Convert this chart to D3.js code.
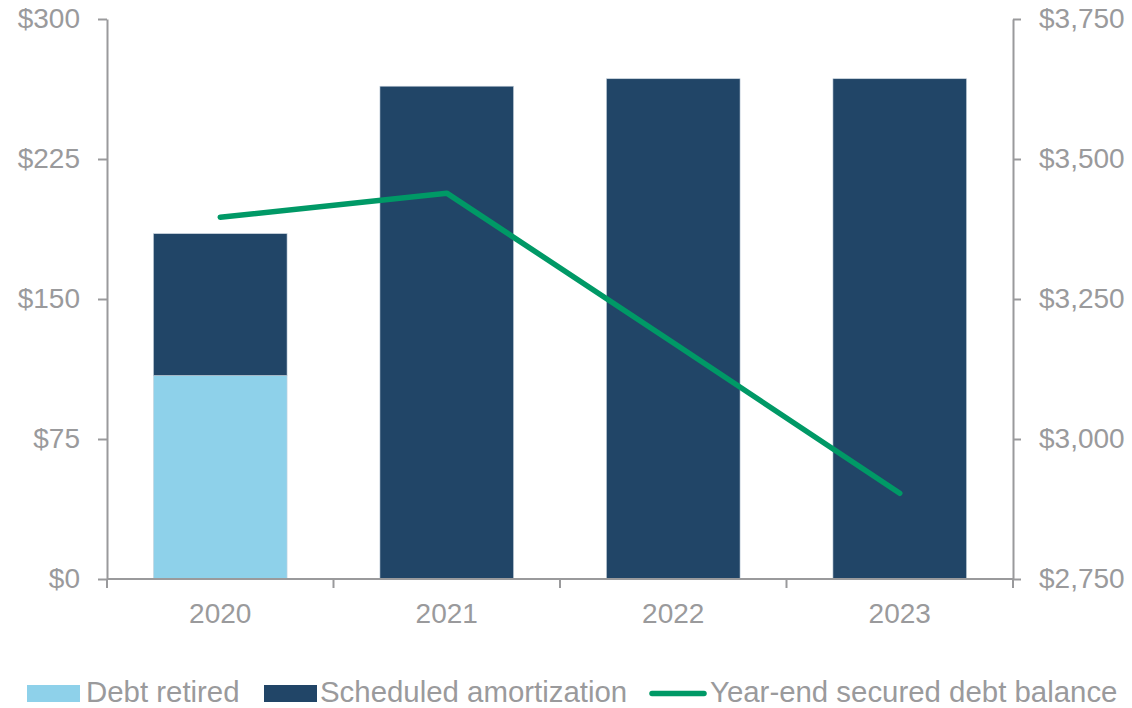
<!DOCTYPE html>
<html>
<head>
<meta charset="utf-8">
<script src="https://cdn.jsdelivr.net/npm/d3@7/dist/d3.min.js"></script>
<style>
  html, body { margin: 0; padding: 0; background: #fff; }
  svg { display: block; font-family: "Liberation Sans", Arial, sans-serif; }
</style>
</head>
<body>
<svg id="chart" width="1132" height="708"></svg>
<script>
// Data ($ millions)
const years = ["2020", "2021", "2022", "2023"];
const debtRetired = [109, 0, 0, 0];
const scheduledAmortization = [76, 264, 268, 268];
const securedDebtBalance = [3396, 3439, 3172, 2903];
const leftTicks = [0, 75, 150, 225, 300];
const rightTicks = [2750, 3000, 3250, 3500, 3750];
const seriesNames = ["Debt retired", "Scheduled amortization", "Year-end secured debt balance"];

const colors = { retired: "#8ed1ea", scheduled: "#214567", line: "#009966", axis: "#9a9a9c", text: "#9a9a9c" };

const svg = d3.select("#chart");
const plot = { left: 107, right: 1013, top: 19, bottom: 579 };

const x = d3.scaleBand().domain(years).range([plot.left, plot.right]).paddingInner(0.41).paddingOuter(0.205);
const xBand = d3.scaleBand().domain(years).range([plot.left, plot.right]);
const yL = d3.scaleLinear().domain([0, 300]).range([plot.bottom, plot.top]);
const yR = d3.scaleLinear().domain([2750, 3750]).range([plot.bottom, plot.top]);

const fmtL = d => "$" + d3.format(",")(d);

// Stacked bars
const rows = years.map((y, i) => ({ year: y, retired: debtRetired[i], scheduled: scheduledAmortization[i] }));
const stack = d3.stack().keys(["retired", "scheduled"])(rows);
const fills = { retired: colors.retired, scheduled: colors.scheduled };
svg.append("g").selectAll("g").data(stack).join("g")
  .attr("fill", s => fills[s.key])
  .selectAll("rect").data(s => s.filter(d => d[1] > d[0])).join("rect")
  .attr("x", d => x(d.data.year))
  .attr("width", x.bandwidth())
  .attr("y", d => yL(d[1]))
  .attr("height", d => yL(d[0]) - yL(d[1]))
  .attr("stroke", "#c9d4de").attr("stroke-width", 0.6);

// Left axis
const gL = svg.append("g").attr("transform", `translate(${plot.left},0)`)
  .call(d3.axisLeft(yL).tickValues(leftTicks).tickFormat(fmtL).tickSize(9).tickPadding(18).tickSizeOuter(0));
// Right axis
const gR = svg.append("g").attr("transform", `translate(${plot.right},0)`)
  .call(d3.axisRight(yR).tickValues(rightTicks).tickFormat(fmtL).tickSize(8).tickPadding(18).tickSizeOuter(0));
[gL, gR].forEach(g => {
  g.select(".domain").attr("stroke", colors.axis).attr("stroke-width", 2);
  g.selectAll(".tick line").attr("stroke", colors.axis).attr("stroke-width", 2);
  g.selectAll(".tick text").attr("fill", colors.text).attr("font-size", 28)
    .attr("font-family", "'Liberation Sans', Arial, sans-serif");
});

// Bottom axis: line, boundary ticks, centred labels
const gX = svg.append("g").attr("transform", `translate(0,${plot.bottom})`);
gX.append("line").attr("x1", plot.left).attr("x2", plot.right).attr("stroke", colors.axis).attr("stroke-width", 2);
const bounds = years.map(y => xBand(y)).concat([xBand(years[years.length - 1]) + xBand.bandwidth()]);
gX.selectAll("line.tk").data(bounds).join("line").attr("class", "tk")
  .attr("x1", d => d).attr("x2", d => d).attr("y1", 0).attr("y2", 9)
  .attr("stroke", colors.axis).attr("stroke-width", 2);
gX.selectAll("text").data(years).join("text")
  .attr("x", d => xBand(d) + xBand.bandwidth() / 2).attr("y", 44)
  .attr("text-anchor", "middle").attr("fill", colors.text).attr("font-size", 28).text(d => d);

// Secured debt balance line
const line = d3.line().x((d, i) => xBand(years[i]) + xBand.bandwidth() / 2).y(d => yR(d));
svg.append("path").datum(securedDebtBalance).attr("d", line)
  .attr("fill", "none").attr("stroke", colors.line).attr("stroke-width", 5.5)
  .attr("stroke-linecap", "round").attr("stroke-linejoin", "round");

// Legend
const legend = svg.append("g").attr("font-size", 29.4).attr("fill", colors.text);
const lg = [
  { x: 27, type: "rect", color: colors.retired, tx: 86, name: seriesNames[0] },
  { x: 264, type: "rect", color: colors.scheduled, tx: 320, name: seriesNames[1] },
  { x: 652, type: "line", color: colors.line, tx: 710, name: seriesNames[2] }
];
lg.forEach(d => {
  if (d.type === "rect") {
    legend.append("rect").attr("x", d.x).attr("y", 685).attr("width", 53).attr("height", 17).attr("fill", d.color);
  } else {
    legend.append("line").attr("x1", d.x).attr("x2", d.x + 52).attr("y1", 693.5).attr("y2", 693.5)
      .attr("stroke", d.color).attr("stroke-width", 5.5).attr("stroke-linecap", "round");
  }
  legend.append("text").attr("x", d.tx).attr("y", 701.5).text(d.name);
});
</script>
</body>
</html>
